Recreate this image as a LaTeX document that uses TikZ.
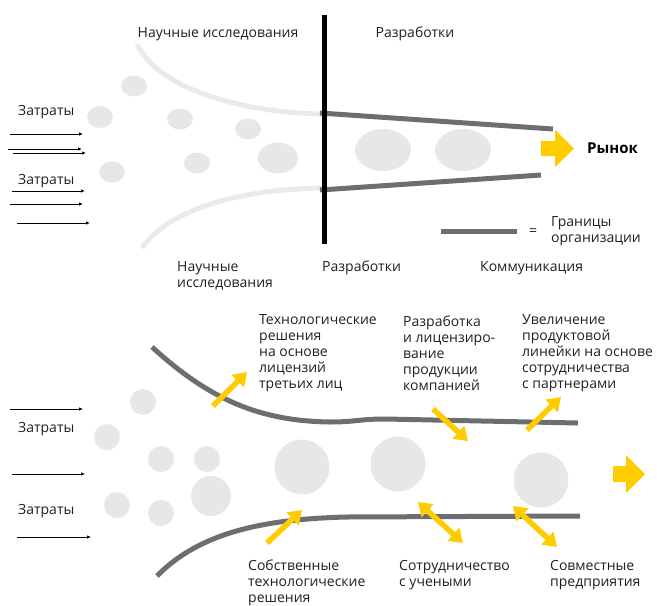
\documentclass[tikz,border=0pt]{standalone}
\usepackage{fontspec}
\setmainfont{Open Sans}
\usetikzlibrary{arrows.meta, positioning}
\definecolor{bubblegrey}{RGB}{230,231,232}
\definecolor{researchgrey}{RGB}{234,234,234}
\definecolor{bordergrey}{RGB}{109,110,113}
\definecolor{brandyellow}{RGB}{255,204,0}
\definecolor{textgrey}{RGB}{35,31,32}

\tikzset{
  txt/.style={inner sep=0pt, text=textgrey, font=\fontsize{14}{16}\selectfont},
  blk/.style={txt, align=left, anchor=west},
  cost/.style={-{Latex[length=4pt,width=3.5pt]}, line width=0.8pt, black},
  bubble/.style={fill=bubblegrey},
  research/.style={line width=5pt, researchgrey},
  boundary/.style={line width=5pt, bordergrey},
  move/.style={line width=5.5pt, brandyellow, -{Triangle[length=13pt,width=17pt]}},
  swap/.style={line width=5.5pt, brandyellow, {Triangle[length=13pt,width=17pt]}-{Triangle[length=13pt,width=17pt]}},
}

\begin{document}
\begin{tikzpicture}[x=1pt, y=-1pt]
    \useasboundingbox (0,0) rectangle (657,606);

    % ---------- верхняя схема: закрытые инновации ----------
    % затраты
    \foreach \xa/\xb/\yy [count=\i] in {10/83/134, 8/82/149, 13/86/153, 12/85/191, 10/83/204, 17/90/223} {
        \coordinate (cs\i) at (\xa,\yy);
        \coordinate (ce\i) at (\xb,\yy);
        \draw[cost] (cs\i) -- (ce\i);
    }
    \node[txt, anchor=west] (cost1) at (18,112) {Затраты};
    \node[txt, anchor=west] (cost2) at (18,181) {Затраты};

    % идеи
    \foreach \cx/\cy/\rx/\ry in {134/86/13/10.5, 100/117/13/11, 180/119/13/10.5, 248/129/13/10.5,
                                 112/172/13/10.5, 197/163/13/10.5, 278/158/20/15.5,
                                 383/150/28/21, 463/150/28/21} {
        \fill[bubble] (\cx,\cy) ellipse ({\rx} and {\ry});
    }

    % границы исследований
    \coordinate (resA1) at (137,44);
    \coordinate (resA2) at (323,114);
    \coordinate (resB1) at (142,248);
    \coordinate (resB2) at (323,188);
    \draw[research] (resA1) .. controls (160,92) and (250,113) .. (resA2);
    \draw[research] (resB1) .. controls (172,205) and (250,189) .. (resB2);

    % границы организации
    \coordinate (orgA1) at (320,113);
    \coordinate (orgA2) at (553,129);
    \coordinate (orgB1) at (320,190);
    \coordinate (orgB2) at (541,175);
    \draw[boundary] (orgA1) -- (orgA2);
    \draw[boundary] (orgB1) -- (orgB2);

    % переход к разработкам
    \coordinate (gateT) at (324,15);
    \coordinate (gateB) at (324,244);
    \draw[line width=5pt, black] (gateT) -- (gateB);

    % рынок
    \fill[brandyellow] (541,141) -- (555,141) -- (555,130) -- (574,148.5) -- (555,167) -- (555,156) -- (541,156) -- cycle;
    \node[txt, anchor=west, font=\fontsize{15}{16}\selectfont\bfseries, text=black] (market) at (587,148) {Рынок};

    % легенда
    \coordinate (legA) at (441,231);
    \coordinate (legB) at (517,231);
    \draw[boundary] (legA) -- (legB);
    \node[txt] (eq) at (533,232) {=};
    \node[blk] (legend) at (551,231) {Границы\\организации};

    % подписи
    \node[txt] (researchT) at (218,34) {Научные исследования};
    \node[txt] (devT) at (415,34) {Разработки};
    \node[blk] (researchB) at (177,276) {Научные\\исследования};
    \node[txt, anchor=west] (devB) at (322,268) {Разработки};
    \node[txt, anchor=west] (comm) at (480,268) {Коммуникация};

    % ---------- нижняя схема: открытые инновации ----------
    % затраты
    \foreach \xa/\xb/\yy [count=\i] in {10/83/409, 12/85/474, 17/91/537} {
        \coordinate (ds\i) at (\xa,\yy);
        \coordinate (de\i) at (\xb,\yy);
        \draw[cost] (ds\i) -- (de\i);
    }
    \node[txt, anchor=west] (cost3) at (18,429) {Затраты};
    \node[txt, anchor=west] (cost4) at (18,511) {Затраты};

    % идеи
    \foreach \cx/\cy/\r in {143/402/13, 107/437/13, 161/459/13, 207/459/13, 117/505/13, 161/513/13,
                            211/496/20, 302/467/27.5, 398/464/27.5, 541/480/27.5} {
        \fill[bubble] (\cx,\cy) circle (\r);
    }

    % границы организации
    \coordinate (openA1) at (152,347);
    \coordinate (openA2) at (330,422);
    \coordinate (openA3) at (578,423);
    \coordinate (openB1) at (157,576);
    \coordinate (openB2) at (347,517);
    \coordinate (openB3) at (580,516);
    \draw[boundary] (openA1) .. controls (210,400) and (260,421) .. (openA2)
        .. controls (355,422) and (360,419) .. (385,419) -- (openA3);
    \draw[boundary] (openB1) .. controls (200,532) and (265,519) .. (openB2) -- (openB3);

    % потоки
    \coordinate (lic1) at (213,406);   \coordinate (lic2) at (247,372);
    \coordinate (own1) at (267,543);   \coordinate (own2) at (302,510);
    \coordinate (out1) at (433,409);   \coordinate (out2) at (468,441);
    \coordinate (ext1) at (527,430);   \coordinate (ext2) at (561,397);
    \coordinate (sci1) at (418,502);   \coordinate (sci2) at (463,543);
    \coordinate (jv1)  at (513,506);   \coordinate (jv2)  at (557,547);
    \draw[move] (lic1) -- (lic2);
    \draw[move] (own1) -- (own2);
    \draw[move] (out1) -- (out2);
    \draw[move] (ext1) -- (ext2);
    \draw[swap] (sci1) -- (sci2);
    \draw[swap] (jv1) -- (jv2);

    % рынок
    \fill[brandyellow] (613,466) -- (626,466) -- (626,455) -- (645,474) -- (626,493) -- (626,482) -- (613,482) -- cycle;

    % подписи
    \node[blk] (licT) at (259,353) {Технологические\\решения\\на основе\\лицензий\\третьих лиц};
    \node[blk] (outT) at (403,353) {Разработка\\и лицензиро-\\вание\\продукции\\компанией};
    \node[blk] (extT) at (522,353) {Увеличение\\продуктовой\\линейки на основе\\сотрудничества\\с партнерами};
    \node[blk] (ownT) at (248,583) {Собственные\\технологические\\решения};
    \node[blk] (sciT) at (399,575) {Сотрудничество\\с учеными};
    \node[blk] (jvT)  at (550,575) {Совместные\\предприятия};
\end{tikzpicture}
\end{document}
